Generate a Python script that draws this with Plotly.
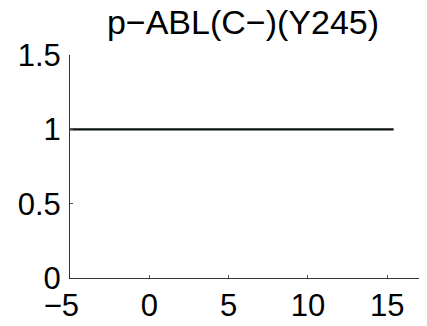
import plotly.graph_objects as go

x_vals = [-5, 0, 5, 10, 15.4]
y_vals = [1, 1, 1, 1, 1]
x_ticks = [-5, 0, 5, 10, 15]
x_tick_labels = ["\u22125\u00a0\u00a0", "0", "5", "10", "15"]
y_ticks = [0, 0.5, 1, 1.5]
y_tick_labels = ["0", "0.5", "1", "1.5"]
title_text = "p\u2212ABL(C\u2212)(Y245)"

# the page body has an 8px default margin, so the figure is 8px smaller
W, H = 419, 318

fig = go.Figure()
fig.add_trace(go.Scatter(x=x_vals, y=y_vals, mode="lines",
                         line=dict(color="#0a130a", width=2.2), showlegend=False))

font = dict(family="Liberation Sans, Arial, sans-serif", size=31, color="black")
fig.update_layout(
    width=W, height=H,
    margin=dict(l=62, r=8, t=47, b=48, autoexpand=False),
    paper_bgcolor="white", plot_bgcolor="white",
    font=font,
    title=dict(text=title_text, x=235 / W, xanchor="center", y=1 - 14 / H, yanchor="middle",
               font=dict(family="Liberation Sans, Arial, sans-serif", size=34, color="black")),
)
fig.update_xaxes(range=[-5, 17], tickvals=x_ticks, ticktext=x_tick_labels,
                 showgrid=False, zeroline=False, automargin=False,
                 showline=True, linecolor="#333333", linewidth=1,
                 ticks="inside", ticklen=3, tickcolor="#555555", tickfont=font)
fig.update_yaxes(range=[0, 1.5], tickvals=y_ticks, ticktext=y_tick_labels,
                 showgrid=False, zeroline=False, automargin=False,
                 showline=True, linecolor="#333333", linewidth=1,
                 ticks="inside", ticklen=3, tickcolor="#555555", tickfont=font,
                 ticklabelstandoff=2)

fig.write_html("out.html")
